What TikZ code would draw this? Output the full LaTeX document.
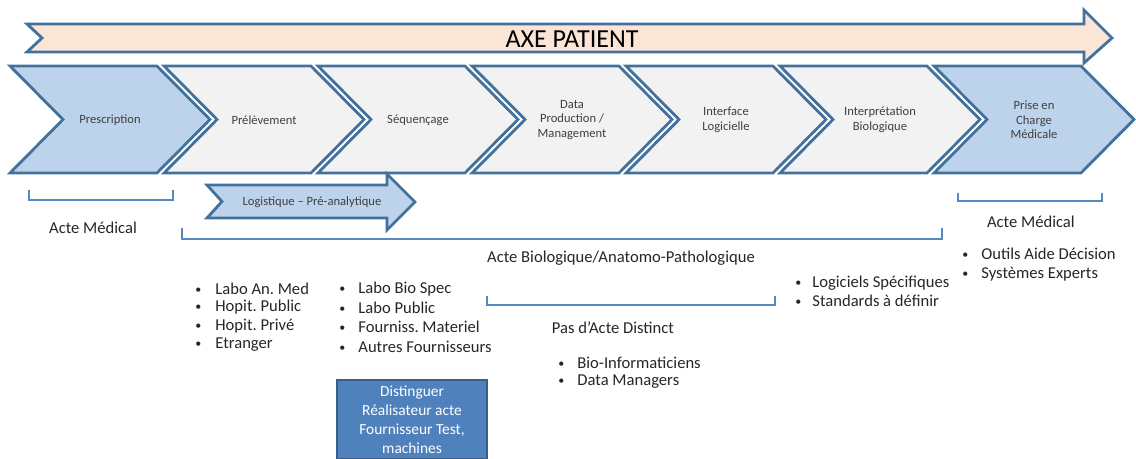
\documentclass[tikz,border=0pt]{standalone}
\usepackage{fontspec}
\setmainfont{Carlito}
\usetikzlibrary{calc}
\definecolor{APPeach}{HTML}{FBE5D6}
\definecolor{APLine}{HTML}{41719C}
\definecolor{APBlue}{HTML}{BDD3EB}
\definecolor{APGrey}{HTML}{F2F2F2}
\definecolor{APBrace}{HTML}{5689C2}
\definecolor{APBox}{HTML}{4F81BD}
\definecolor{APBoxLine}{HTML}{385D8A}
\definecolor{APText}{HTML}{404040}
\definecolor{APDark}{HTML}{262626}
\newcommand{\puce}[1]{\makebox[#1][l]{\fontsize{6}{6}\selectfont\raisebox{0.6pt}{•}}}
\frenchspacing

\begin{document}
\begin{tikzpicture}[
    x=0.5pt, y=-0.5pt,
    stepshape/.style={draw=APLine, line width=1.4pt, line join=miter},
    steptext/.style={text=APText, font=\fontsize{6.3}{7.3}\selectfont, align=center},
    braceline/.style={draw=APBrace, line width=1pt},
    labeltext/.style={text=APDark, font=\fontsize{8.3}{9.5}\selectfont},
    listitem/.style={labeltext, anchor=west, inner sep=0pt}
 ]
\clip (0,0) rectangle (1136,459);

% the steps
    \foreach \k/\lbl/\fc in {0/Prescription/APBlue, 1/Prélèvement/APGrey, 2/Séquençage/APGrey,
        3/{Data\\Production /\\Management}/APGrey, 4/{Interface\\Logicielle}/APGrey,
        5/{Interprétation\\Biologique}/APGrey, 6/{Prise en\\Charge\\Médicale}/APBlue} {
        \pgfmathsetmacro{\xo}{10+154*\k}
        \draw [stepshape, fill=\fc] (\xo,66) -- ++(147,0) -- ++(53,53.5) -- ++(-53,53.5)
            -- ++(-147,0) -- ++(53,-53.5) -- cycle;
        \node [steptext] (step\k) at (\xo+100,120) {\lbl};
    }

% axe patient
\draw [stepshape, fill=APPeach] (27,24) -- (1084,24) -- (1084,10) -- (1112,38) -- (1084,63)
    -- (1084,52) -- (27,52) -- (42,38) -- cycle;
\node [font=\fontsize{13}{15}\selectfont, text=black] (axe) at (572,39) {AXE PATIENT};

% logistique
\draw [stepshape, fill=APBlue] (207,185) -- (387,185) -- (387,174) -- (415,202) -- (387,230)
    -- (387,218) -- (207,218) -- (222,201.5) -- cycle;
\node [steptext] (logi) at (312,202) {Logistique – Pré-analytique};

% brackets
\draw [braceline] (29,190) -- (29,200) -- (173,200) -- (173,190);
\draw [braceline] (182,228) -- (182,239) -- (942,239) -- (942,228);
\draw [braceline] (958,193) -- (958,201) -- (1102,201) -- (1102,193);
\draw [braceline] (487,296) -- (487,305) -- (775,305) -- (775,296);

\node [labeltext] (medL) at (93,228) {Acte Médical};
\node [labeltext, anchor=west] (medR) at (980,222) {Acte Médical};
\node [labeltext] (bio) at (621,258) {Acte Biologique/Anatomo-Pathologique};
\node [labeltext] (pas) at (613,328) {Pas d’Acte Distinct};

% lists
    \foreach \y/\t in {289/Labo An. Med, 307/Hopit. Public, 326/Hopit. Privé, 345/Etranger} {
        \node [listitem] (lieu\y) at (195,\y) {\puce{10pt}\t};
    }
    \foreach \y/\t in {289/Labo Bio Spec, 308/Labo Public, 327/Fourniss. Materiel, 347/Autres Fournisseurs} {
        \node [listitem] (four\y) at (339,\y) {\puce{9.5pt}\t};
    }
    \foreach \y/\t in {363/Bio-Informaticiens, 382/Data Managers} {
        \node [listitem] (info\y) at (558,\y) {\puce{9.5pt}\t};
    }
    \foreach \y/\t in {283/Logiciels Spécifiques, 301/Standards à définir} {
        \node [listitem] (logic\y) at (795,\y) {\puce{8.5pt}\t};
    }
    \foreach \y/\t in {254/Outils Aide Décision, 274/Systèmes Experts} {
        \node [listitem] (aide\y) at (962,\y) {\puce{9.5pt}\t};
    }

% distinguer
\node [draw=APBoxLine, fill=APBox, line width=1pt, text=white, align=center,
    font=\fontsize{7.7}{9.4}\selectfont, minimum width=75pt, anchor=north, inner ysep=3pt]
    (dist) at (412,379) {Distinguer\\Réalisateur acte\\Fournisseur Test,\\machines};

\end{tikzpicture}
\end{document}
